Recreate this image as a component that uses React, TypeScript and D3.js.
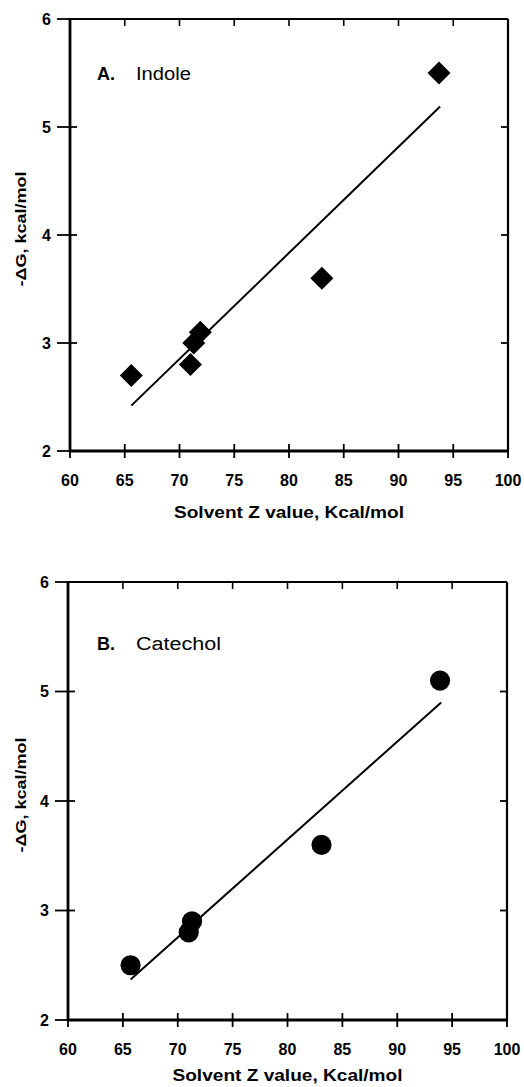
import React, { useEffect, useRef } from 'react';
import * as d3 from 'd3';

// Solvent Z values (Kcal/mol) and binding free energies
const zIndole = [65.6, 71.0, 71.3, 71.9, 83.0, 93.7];
const dGIndole = [2.7, 2.8, 3.0, 3.1, 3.6, 5.5];
const zCatechol = [65.7, 71.0, 71.3, 83.1, 93.9];
const dGCatechol = [2.5, 2.8, 2.9, 3.6, 5.1];

// regression line end points [Z, -dG]
const fitIndole: [number, number][] = [[65.6, 2.42], [93.8, 5.19]];
const fitCatechol: [number, number][] = [[65.7, 2.37], [94.0, 4.9]];

const xTicks = [60, 65, 70, 75, 80, 85, 90, 95, 100];
const yTicks = [2, 3, 4, 5, 6];

const FONT = '"Liberation Sans", Arial, Helvetica, sans-serif';

type Panel = {
  letter: string;
  name: string;
  nameLen: number;
  xs: number[];
  ys: number[];
  fit: [number, number][];
  marker: 'diamond' | 'circle';
  x0: number; x1: number; yTop: number; yBot: number;
  labelY: number;
  titleOff: number;
};

const panels: Panel[] = [
  { letter: 'A.', name: 'Indole', nameLen: 55, xs: zIndole, ys: dGIndole, fit: fitIndole,
    marker: 'diamond', x0: 70, x1: 508, yTop: 19, yBot: 451, labelY: 80, titleOff: 67 },
  { letter: 'B.', name: 'Catechol', nameLen: 85, xs: zCatechol, ys: dGCatechol, fit: fitCatechol,
    marker: 'circle', x0: 68, x1: 507, yTop: 582, yBot: 1020, labelY: 650, titleOff: 61 },
];

export default function App() {
  const svgRef = useRef<SVGSVGElement>(null);

  useEffect(() => {
    const svg = d3.select(svgRef.current);
    svg.selectAll('*').remove();

    panels.forEach((p) => {
      const x = d3.scaleLinear().domain([60, 100]).range([p.x0, p.x1]);
      const y = d3.scaleLinear().domain([2, 6]).range([p.yBot, p.yTop]);
      const g = svg.append('g');
      const tk = 7;

      // frame
      g.append('line').attr('x1', p.x0).attr('x2', p.x1).attr('y1', p.yTop).attr('y2', p.yTop)
        .attr('stroke', '#000').attr('stroke-width', 2.2);
      g.append('line').attr('x1', p.x1).attr('x2', p.x1).attr('y1', p.yTop).attr('y2', p.yBot)
        .attr('stroke', '#000').attr('stroke-width', 2.2);
      g.append('line').attr('x1', p.x0).attr('x2', p.x0).attr('y1', p.yTop - 1).attr('y2', p.yBot + 1)
        .attr('stroke', '#000').attr('stroke-width', 2.8);
      g.append('line').attr('x1', p.x0 - 1).attr('x2', p.x1 + 1).attr('y1', p.yBot).attr('y2', p.yBot)
        .attr('stroke', '#000').attr('stroke-width', 2.8);

      // x ticks: crossing at bottom, inward at top
      xTicks.forEach((t) => {
        g.append('line').attr('x1', x(t)).attr('x2', x(t))
          .attr('y1', p.yBot - tk).attr('y2', p.yBot + tk)
          .attr('stroke', '#000').attr('stroke-width', 1.8);
        if (t > 60 && t < 100) {
          g.append('line').attr('x1', x(t)).attr('x2', x(t))
            .attr('y1', p.yTop).attr('y2', p.yTop + tk)
            .attr('stroke', '#000').attr('stroke-width', 1.6);
        }
        g.append('text').attr('x', x(t)).attr('y', p.yBot + 35)
          .attr('text-anchor', 'middle').attr('font-family', FONT)
          .attr('font-weight', 'bold').attr('font-size', 16).text(t);
      });

      // y ticks: outward + inward on left, inward on right
      yTicks.forEach((t) => {
        const inner = t > 2 && t < 6;
        g.append('line').attr('x1', p.x0 - 13).attr('x2', p.x0 + (inner ? tk : 0))
          .attr('y1', y(t)).attr('y2', y(t))
          .attr('stroke', '#000').attr('stroke-width', 1.8);
        if (inner) {
          g.append('line').attr('x1', p.x1 - tk).attr('x2', p.x1)
            .attr('y1', y(t)).attr('y2', y(t))
            .attr('stroke', '#000').attr('stroke-width', 1.8);
        }
        g.append('text').attr('x', p.x0 - 19).attr('y', y(t)).attr('dy', '0.36em')
          .attr('text-anchor', 'end').attr('font-family', FONT)
          .attr('font-weight', 'bold').attr('font-size', 16).text(t);
      });

      // axis titles
      g.append('text').attr('x', (p.x0 + p.x1) / 2).attr('y', p.yBot + p.titleOff)
        .attr('text-anchor', 'middle').attr('font-family', FONT)
        .attr('font-weight', 'bold').attr('font-size', 17)
        .attr('textLength', 230).attr('lengthAdjust', 'spacingAndGlyphs')
        .text('Solvent Z value, Kcal/mol');
      const cy = (p.yTop + p.yBot) / 2 - 6;
      g.append('text').attr('transform', `translate(26,${cy}) rotate(-90)`)
        .attr('text-anchor', 'middle').attr('font-family', FONT)
        .attr('font-weight', 'bold').attr('font-size', 15)
        .attr('textLength', 115).attr('lengthAdjust', 'spacingAndGlyphs')
        .text('-\u0394G, kcal/mol');

      // panel label
      g.append('text').attr('x', 97).attr('y', p.labelY).attr('font-family', FONT)
        .attr('font-weight', 'bold').attr('font-size', 18).text(p.letter);
      g.append('text').attr('x', 136).attr('y', p.labelY).attr('font-family', FONT)
        .attr('font-size', 18)
        .attr('textLength', p.nameLen).attr('lengthAdjust', 'spacingAndGlyphs')
        .text(p.name);

      // fit line
      g.append('path').datum(p.fit)
        .attr('d', d3.line<[number, number]>().x((d) => x(d[0])).y((d) => y(d[1])))
        .attr('fill', 'none').attr('stroke', '#000').attr('stroke-width', 2);

      // markers
      const sym = p.marker === 'diamond'
        ? d3.symbol().type(d3.symbolSquare).size(265)
        : d3.symbol().type(d3.symbolCircle).size(320);
      g.selectAll('.pt').data(p.xs.map((v, i) => [v, p.ys[i]]))
        .enter().append('path')
        .attr('d', sym as any)
        .attr('transform', (d) => `translate(${x(d[0])},${y(d[1])})${p.marker === 'diamond' ? ' rotate(45)' : ''}`)
        .attr('fill', '#000');
    });
  }, []);

  return (
    <svg ref={svgRef} width={524} height={1087}
      style={{ position: 'absolute', left: 0, top: 0, background: '#fff' }} />
  );
}
